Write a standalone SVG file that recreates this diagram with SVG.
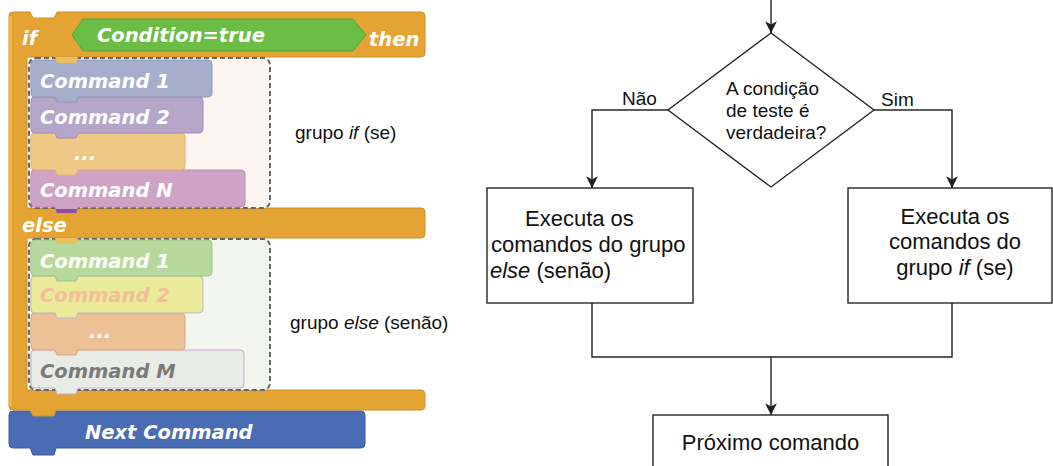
<svg xmlns="http://www.w3.org/2000/svg" width="1053" height="466" viewBox="0 0 1053 466">
<style>
.bt{font-family:"DejaVu Sans",sans-serif;font-weight:bold;font-style:italic;font-size:19.5px;fill:#ffffff}
.lbl{font-family:"Liberation Sans",Arial,sans-serif;font-size:19px;fill:#111}
.fc{font-family:"Liberation Sans",Arial,sans-serif;font-size:22px;fill:#111}
.dt{font-family:"Liberation Sans",Arial,sans-serif;font-size:19px;fill:#111}
.ln{fill:none;stroke:#262626;stroke-width:1.4}
.box{fill:#ffffff;stroke:#262626;stroke-width:1.4}
.dash{stroke:#666;stroke-width:2;stroke-dasharray:5 3}
</style>
<defs>
<marker id="arr" markerUnits="userSpaceOnUse" markerWidth="14" markerHeight="14" viewBox="-12 -6 13 12" refX="0" refY="0" orient="auto">
<path d="M0,0 L-11,-5.5 L-8,0 L-11,5.5 Z" fill="#1e1e1e"/>
</marker>
</defs>

<!-- Blockly side -->
<g id="next-command">
<path d="M13,411 H361 Q365,411 365,415 V444 Q365,448 361,448 H56 L54,455 H33 L30,448 H13 Q9,448 9,444 V415 Q9,411 13,411 Z" fill="#4A6CB5" stroke="#3D5C9F" stroke-width="1"/>
<text class="bt" x="85" y="439">Next Command</text>
</g>

<g id="if-block">
<path d="M9,16 Q9,12 13,12 H30 L33,18 H54 L57,12 H421 Q425,12 425,16 V53 Q425,57 421,57 H27 V208 H421 Q425,208 425,212 V234 Q425,238 421,238 H27 V390 H421 Q425,390 425,394 V406 Q425,410 421,410 H56 L54,416 H33 L30,410 H13 Q9,410 9,406 Z" fill="#E3A434" stroke="#CC9028" stroke-width="1"/>
<path d="M10.5,406 V16" stroke="#F6BC42" stroke-width="2.5" fill="none"/>
<text class="bt" x="22" y="45">if</text>
<text class="bt" x="369" y="46">then</text>
<text class="bt" x="22" y="232">else</text>
</g>

<g id="condition">
<path d="M72,35 L83,19 H353 L366,35 L353,51 H83 Z" fill="#6ABD45" stroke="#5AA63A" stroke-width="1"/>
<text class="bt" x="97" y="42">Condition=true</text>
</g>

<g id="if-group">
<rect x="29" y="58" width="241" height="150" rx="7" fill="#FDF5F0" class="dash"/>
<path d="M35,170 H241 Q245,170 245,174 V203 Q245,207 241,207 H78 L76,213 H57 L55,207 H35 Q31,207 31,203 V174 Q31,170 35,170 Z" fill="#CFA3C5" stroke="#B98AB0" stroke-width="1"/>
<path d="M55.5,209 H77.5 L76,213 H57 Z" fill="#8E4FA0"/>
<text class="bt" x="40" y="197">Command N</text>
<path d="M35,133 H181 Q185,133 185,137 V166 Q185,170 181,170 H78 L76,175 H57 L55,170 H35 Q31,170 31,166 V137 Q31,133 35,133 Z" fill="#F0C987" stroke="#DDB470" stroke-width="1"/>
<text class="bt" x="74" y="160">...</text>
<path d="M35,97 H199 Q203,97 203,101 V129 Q203,133 199,133 H78 L76,138 H57 L55,133 H35 Q31,133 31,129 V101 Q31,97 35,97 Z" fill="#B4A5C9" stroke="#9D8DB5" stroke-width="1"/>
<text class="bt" x="40" y="124">Command 2</text>
<path d="M35,60 H208 Q212,60 212,64 V93 Q212,97 208,97 H78 L76,102 H57 L55,97 H35 Q31,97 31,93 V64 Q31,60 35,60 Z" fill="#A5AECB" stroke="#8F99B8" stroke-width="1"/>
<text class="bt" x="40" y="88">Command 1</text>
<path d="M55,57 H78 L76,63 H57 Z" fill="#EDBD62"/>
</g>

<g id="else-group">
<rect x="29" y="239" width="241" height="151" rx="7" fill="#F2F6EF" class="dash"/>
<path d="M35,350 H240 Q244,350 244,354 V384 Q244,388 240,388 H78 L76,394 H57 L55,388 H35 Q31,388 31,384 V354 Q31,350 35,350 Z" fill="#E9ECE4" stroke="#C9A6CF" stroke-width="1"/>
<text class="bt" x="40" y="378" style="fill:#7A7A7A">Command M</text>
<path d="M35,313 H181 Q185,313 185,317 V346 Q185,350 181,350 H78 L76,355 H57 L55,350 H35 Q31,350 31,346 V317 Q31,313 35,313 Z" fill="#EEC096" stroke="#D9A97E" stroke-width="1"/>
<text class="bt" x="89" y="338">...</text>
<path d="M35,276 H199 Q203,276 203,280 V309 Q203,313 199,313 H78 L76,318 H57 L55,313 H35 Q31,313 31,309 V280 Q31,276 35,276 Z" fill="#EAEA99" stroke="#B9B9C9" stroke-width="1"/>
<text class="bt" x="40" y="302" style="fill:#F5BE9A">Command 2</text>
<path d="M35,240 H208 Q212,240 212,244 V272 Q212,276 208,276 H78 L76,281 H57 L55,276 H35 Q31,276 31,272 V244 Q31,240 35,240 Z" fill="#B7D99B" stroke="#9FC583" stroke-width="1"/>
<text class="bt" x="40" y="268">Command 1</text>
<path d="M55,238 H78 L76,244 H57 Z" fill="#EDBD62"/>
</g>

<g id="labels">
<text class="lbl" x="295" y="139">grupo <tspan font-style="italic">if</tspan> (se)</text>
<text class="lbl" x="290" y="329">grupo <tspan font-style="italic">else</tspan> (senão)</text>
</g>

<!-- Flowchart side -->
<g id="connectors">
<path class="ln" d="M771,0 V33" marker-end="url(#arr)"/>
<path class="ln" d="M668,110 H592 V188" marker-end="url(#arr)"/>
<path class="ln" d="M874,110 H952 V188" marker-end="url(#arr)"/>
<path class="ln" d="M592,303 V357 H952 V303"/>
<path class="ln" d="M771,357 V415" marker-end="url(#arr)"/>
<text class="dt" x="622" y="105">Não</text>
<text class="dt" x="881" y="106">Sim</text>
</g>

<g id="decision">
<path class="box" d="M771,33 L874,110 L771,187 L668,110 Z"/>
<text class="dt" x="726" y="95">A condição</text>
<text class="dt" x="726" y="117">de teste é</text>
<text class="dt" x="726" y="139">verdadeira?</text>
</g>

<g id="else-box">
<rect class="box" x="487" y="188" width="206" height="115"/>
<text class="fc" x="525" y="226">Executa os</text>
<text class="fc" x="491" y="252">comandos do grupo</text>
<text class="fc" x="490" y="278"><tspan font-style="italic">else</tspan> (senão)</text>
</g>

<g id="if-box">
<rect class="box" x="848" y="188" width="204" height="115"/>
<text class="fc" x="955" y="224" text-anchor="middle">Executa os</text>
<text class="fc" x="955" y="249" text-anchor="middle">comandos do</text>
<text class="fc" x="955" y="275" text-anchor="middle">grupo <tspan font-style="italic">if</tspan> (se)</text>
</g>

<g id="next-box">
<rect class="box" x="653" y="415" width="235" height="60"/>
<text class="fc" x="770.5" y="450" text-anchor="middle">Próximo comando</text>
</g>
</svg>
